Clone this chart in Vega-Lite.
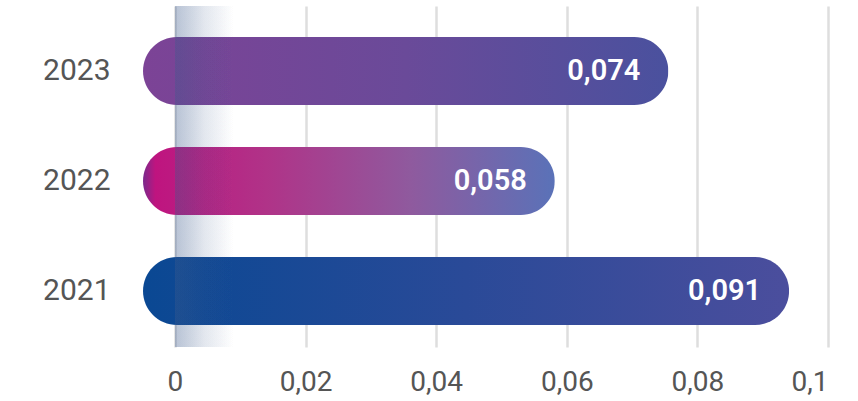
{
  "$schema": "https://vega.github.io/schema/vega-lite/v6.json",
  "width": 685,
  "height": 341,
  "autosize": "none",
  "padding": {"left": 143, "top": 6, "right": 30, "bottom": 54},
  "config": {
    "view": {"stroke": null},
    "font": "Roboto",
    "locale": {"number": {"decimal": ",", "thousands": ".", "grouping": [3], "currency": ["", " €"]}}
  },
  "data": {
    "values": [
      {"year": "2023", "value": 0.074},
      {"year": "2022", "value": 0.058},
      {"year": "2021", "value": 0.091}
    ]
  },
  "encoding": {
    "y": {
      "field": "year",
      "type": "nominal",
      "sort": ["2023", "2022", "2021"],
      "scale": {"paddingInner": 0.382, "paddingOuter": 0.241, "align": 0.585},
      "axis": {
        "title": null,
        "domain": false,
        "ticks": false,
        "labelPadding": 33,
        "labelFontSize": 30,
        "labelColor": "#555555",
        "labelFont": "Roboto"
      }
    }
  },
  "layer": [
    {
      "transform": [{"filter": "datum.year === '2023'"}],
      "mark": {
        "type": "bar",
        "cornerRadius": 34,
        "fill": {
          "gradient": "linear", "x1": 0, "y1": 0, "x2": 1, "y2": 0,
          "stops": [
            {"offset": 0, "color": "#7c4396"},
            {"offset": 0.5, "color": "#6a4a99"},
            {"offset": 1, "color": "#4a519e"}
          ]
        }
      },
      "encoding": {
        "x": {"field": "value", "type": "quantitative", "scale": {"domain": [0, 0.09648], "nice": false, "zero": true}, "axis": null}
      }
    },
    {
      "transform": [{"filter": "datum.year === '2022'"}],
      "mark": {
        "type": "bar",
        "cornerRadius": 34,
        "fill": {
          "gradient": "linear", "x1": 0, "y1": 0, "x2": 1, "y2": 0,
          "stops": [
            {"offset": 0, "color": "#7a2a8c"},
            {"offset": 0.03, "color": "#bf147f"},
            {"offset": 0.3, "color": "#b03388"},
            {"offset": 0.65, "color": "#8f5a9e"},
            {"offset": 1, "color": "#5a72b8"}
          ]
        }
      },
      "encoding": {
        "x": {"field": "value", "type": "quantitative", "scale": {"domain": [0, 0.09648], "nice": false, "zero": true}, "axis": null}
      }
    },
    {
      "transform": [{"filter": "datum.year === '2021'"}],
      "mark": {
        "type": "bar",
        "cornerRadius": 34,
        "fill": {
          "gradient": "linear", "x1": 0, "y1": 0, "x2": 1, "y2": 0,
          "stops": [
            {"offset": 0, "color": "#0a4893"},
            {"offset": 0.5, "color": "#2a4a98"},
            {"offset": 1, "color": "#4b4e9d"}
          ]
        }
      },
      "encoding": {
        "x": {"field": "value", "type": "quantitative", "scale": {"domain": [0, 0.09648], "nice": false, "zero": true}, "axis": null}
      }
    },
    {
      "mark": {
        "type": "rect",
        "fill": {
          "gradient": "linear", "x1": 0, "y1": 0, "x2": 1, "y2": 0,
          "stops": [
            {"offset": 0, "color": "rgba(60,90,140,0.14)"},
            {"offset": 0.5, "color": "rgba(60,90,140,0.05)"},
            {"offset": 1, "color": "rgba(60,90,140,0)"}
          ]
        }
      },
      "encoding": {
        "x": {
          "datum": 0,
          "type": "quantitative",
          "scale": {"domain": [-0.0049, 0.1], "nice": false, "zero": false},
          "axis": {
            "title": null,
            "values": [0, 0.02, 0.04, 0.06, 0.08, 0.1],
            "format": "~g",
            "domain": false,
            "ticks": false,
            "grid": true,
            "gridColor": "#dedede",
            "gridWidth": 2.5,
            "labelFontSize": 28,
            "labelColor": "#555555",
            "labelPadding": 21,
            "labelFont": "Roboto"
          }
        },
        "x2": {"datum": 0.009},
        "y": {"value": 0},
        "y2": {"value": 341}
      }
    },
    {
      "mark": {"type": "text", "align": "right", "baseline": "middle", "dx": -28, "color": "white", "fontSize": 29, "fontWeight": 600, "font": "Roboto"},
      "encoding": {
        "x": {"field": "value", "type": "quantitative", "scale": {"domain": [0, 0.09648], "nice": false, "zero": true}, "axis": null},
        "text": {"field": "value", "type": "quantitative", "format": ".3f"}
      }
    }
  ],
  "resolve": {"scale": {"x": "independent"}, "axis": {"x": "independent"}}
}
